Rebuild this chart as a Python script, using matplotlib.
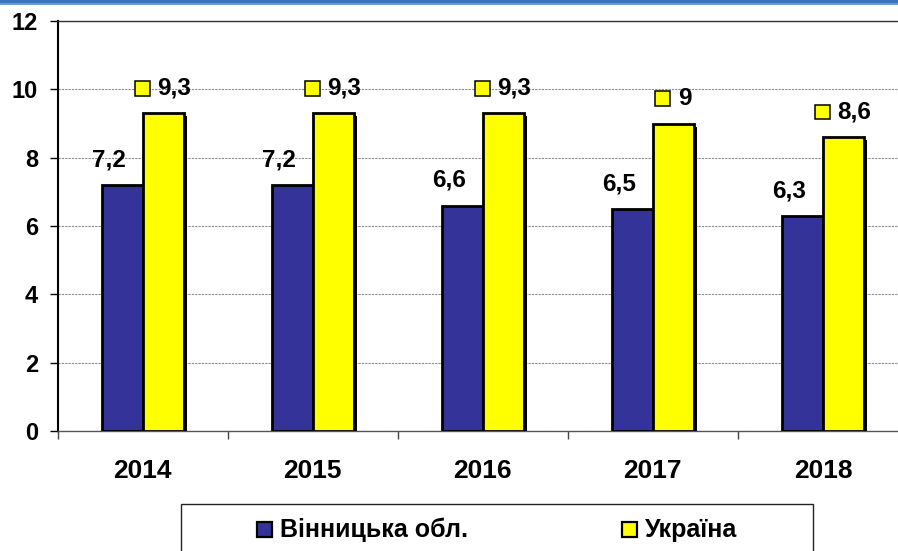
import matplotlib
matplotlib.use("Agg")
import matplotlib.pyplot as plt
import matplotlib.patheffects as pe
from matplotlib.patches import Rectangle
from matplotlib.offsetbox import AnnotationBbox, DrawingArea, TextArea, HPacker
import numpy as np

years = ["2014", "2015", "2016", "2017", "2018"]
vinnytsia = [7.2, 7.2, 6.6, 6.5, 6.3]
ukraine = [9.3, 9.3, 9.3, 9.0, 8.6]
series_names = ["Вінницька обл.", "Україна"]
y_ticks = [0, 2, 4, 6, 8, 10, 12]

BLUE = "#333399"
YELLOW = "#FFFF00"
FONT = "Liberation Sans"

plt.rcParams["font.family"] = [FONT, "DejaVu Sans"]
plt.rcParams["font.weight"] = "bold"

W, H = 898, 551
fig = plt.figure(figsize=(W / 100, H / 100), dpi=100)

# plot area in pixel terms
x0, x1 = 57.5, 908.0
y_top, y_bot = 21.0, 431.0
ax = fig.add_axes([x0 / W, 1 - y_bot / H, (x1 - x0) / W, (y_bot - y_top) / H])

x = np.arange(len(years))
bw = 0.241
shadow = [pe.SimplePatchShadow(offset=(2.2, -2.2), shadow_rgbFace="black", alpha=1.0), pe.Normal()]

b1 = ax.bar(x - bw / 2, vinnytsia, bw, color=BLUE, edgecolor="black", linewidth=2.0, zorder=3)
b2 = ax.bar(x + bw / 2, ukraine, bw, color=YELLOW, edgecolor="black", linewidth=2.0, zorder=4)
for p in list(b1) + list(b2):
    p.set_path_effects(shadow)


def fmt(v):
    return f"{v:g}".replace(".", ",")


# value labels for the region series
for xi, v in zip(x, vinnytsia):
    ax.annotate(fmt(v), (xi - bw / 2, v), xytext=(-13.5, 25), textcoords="offset pixels",
                ha="center", va="center", fontsize=17.5, fontweight="bold", zorder=6)

# value labels for Ukraine, with a legend key in front
for xi, v in zip(x, ukraine):
    da = DrawingArea(10.5, 10.5, 0, 0)
    da.add_artist(Rectangle((0, 0), 10.5, 10.5, facecolor=YELLOW, edgecolor="black", linewidth=1.1))
    ta = TextArea(fmt(v), textprops=dict(fontsize=17.5, fontweight="bold", family=FONT))
    box = HPacker(children=[da, ta], align="center", pad=0, sep=5.5)
    ab = AnnotationBbox(box, (xi + bw / 2, v), xybox=(0, 25), xycoords="data",
                        boxcoords="offset pixels", frameon=False, box_alignment=(0.5, 0.5),
                        zorder=6)
    ax.add_artist(ab)

ax.set_xlim(-0.5, len(years) - 0.5)
ax.set_ylim(0, 12)
ax.set_yticks(y_ticks)
ax.set_yticklabels([str(t) for t in y_ticks], fontsize=17, fontweight="bold")
ax.tick_params(axis="y", direction="out", length=5.5, width=1.0, pad=8.5, color="black")

ax.set_xticks(x)
ax.set_xticklabels(years, fontsize=19, fontweight="bold")
ax.set_xticks(np.arange(-0.5, len(years)), minor=True)
ax.tick_params(axis="x", which="major", length=0, pad=20.5)
ax.tick_params(axis="x", which="minor", direction="out", length=6, width=1.0, color="#444444")

ax.yaxis.grid(True, color="#8a8a8a", linestyle=(0, (2, 1)), linewidth=0.8, zorder=0)
ax.set_axisbelow(True)
ax.spines["left"].set_linewidth(1.5)
ax.spines["left"].set_color("black")
ax.spines["top"].set_linewidth(1.0)
ax.spines["top"].set_color("#333333")
ax.spines["bottom"].set_linewidth(1.0)
ax.spines["bottom"].set_color("#555555")
ax.spines["right"].set_visible(False)

# blue band across the top edge
fig.add_artist(Rectangle((0, 1 - 3 / H), 1, 3 / H, transform=fig.transFigure,
                         facecolor="#3f70b0", edgecolor="none"))
fig.add_artist(Rectangle((0, 1 - 5 / H), 1, 2 / H, transform=fig.transFigure,
                         facecolor="#6f9bd2", edgecolor="none"))

# legend box, running off the bottom edge
def px(xp, yp):
    return xp / W, 1 - yp / H

lx0, ly0, lx1, ly1 = 180.5, 503.5, 812.5, 575
fig.add_artist(Rectangle(px(lx0, ly1), (lx1 - lx0) / W, (ly1 - ly0) / H, transform=fig.transFigure,
                         facecolor="white", edgecolor="#222222", linewidth=1.0))
for (kx, color, name, tx) in [(257, BLUE, series_names[0], 280), (622, YELLOW, series_names[1], 645)]:
    fig.add_artist(Rectangle(px(kx, 537), 15 / W, 15 / H, transform=fig.transFigure,
                             facecolor=color, edgecolor="black", linewidth=1.6))
    fig.text(*px(tx, 529.5), name, ha="left", va="center", fontsize=18, fontweight="bold")

fig.savefig("out.png", dpi=100)
